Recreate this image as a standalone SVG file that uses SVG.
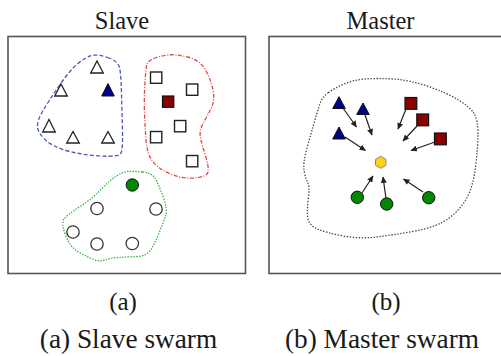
<svg xmlns="http://www.w3.org/2000/svg" width="501" height="356" viewBox="0 0 501 356">
<defs>
<style>
.frame{fill:#fff;stroke:#555;stroke-width:1.6}
.lbl{font-family:"Liberation Serif","Times New Roman",serif;fill:#1a1a1a;text-anchor:middle}
.top{font-size:24.5px}
.sub{font-size:25px}
.cap{font-size:27.3px}
.tri{fill:#fff;stroke:#222;stroke-width:1.3}
.sq{fill:#fff;stroke:#222;stroke-width:1.4}
.cir{fill:#fff;stroke:#333;stroke-width:1.3}
.btri{fill:#00008b;stroke:#111;stroke-width:1}
.rsq{fill:#8b0000;stroke:#111;stroke-width:1.2}
.gcir{fill:#008800;stroke:#111;stroke-width:1}
.blob{fill:none;stroke-width:1.3}
.arrow{stroke:#222;stroke-width:1.2;fill:none;marker-end:url(#ah)}
</style>
<marker id="ah" markerUnits="userSpaceOnUse" markerWidth="7" markerHeight="6" refX="6" refY="3" orient="auto">
<path d="M0,0 L6.5,3 L0,6 Z" fill="#222"/>
</marker>
</defs>
<rect width="501" height="356" fill="#fff"/>

<text class="lbl top" x="122" y="29">Slave</text>
<text class="lbl top" x="380.5" y="29">Master</text>

<g id="panel-slave">
<rect class="frame" x="8" y="36.5" width="237.5" height="237"/>
<path id="blob-blue" class="blob" stroke="#4a58b8" stroke-dasharray="4 2.2" d="M 107.5,57.5 Q 118,61 119.5,67.5 Q 121,74 121.5,93 Q 122,112 122.5,131.5 Q 123,151 120.5,154 Q 118,157 100.5,156 Q 83,155 68,151 Q 53,147 45.5,140 Q 38,133 37.5,127 Q 37,121 42.5,111.5 Q 48,102 59,86 Q 70,70 78,63.5 Q 86,57 91.5,55.5 Q 97,54 107.5,57.5 Z"/>
<path id="blob-red" class="blob" stroke="#e04646" stroke-dasharray="4 1.6 1 1.6" d="M 154,58.5 Q 160,56 167.5,55 Q 175,54 187.5,57 Q 200,60 205.5,70 Q 211,80 213,90 Q 215,100 211.5,107.5 Q 208,115 203.5,122.5 Q 199,130 200.5,137.5 Q 202,145 205.5,156 Q 209,167 208,172 Q 207,177 194.5,178 Q 182,179 169.5,173.5 Q 157,168 152,160.5 Q 147,153 146,140 Q 145,127 144.5,112 Q 144,97 145,82 Q 146,67 147,64 Q 148,61 154,58.5 Z"/>
<path id="blob-green" class="blob" stroke="#3aaa3a" stroke-dasharray="1.4 1.4" d="M 142.5,172 Q 152,173 155,178 Q 158,183 163,196.5 Q 168,210 165.5,216.5 Q 163,223 159,233 Q 155,243 151,249.5 Q 147,256 137,256.5 Q 127,257 118.5,257.5 Q 110,258 105,260 Q 100,262 93.5,259.5 Q 87,257 78.5,252 Q 70,247 65.5,235 Q 61,223 64,219 Q 67,215 80,206.5 Q 93,198 101.5,189 Q 110,180 116.5,176 Q 123,172 128,171.5 Q 133,171 142.5,172 Z"/>

<g id="slave-triangles">
<polygon class="tri" points="97,61 103.3,73 90.7,73"/>
<polygon class="tri" points="61,84 67.3,96 54.7,96"/>
<polygon class="btri" points="108,83.5 114.3,96 101.7,96"/>
<polygon class="tri" points="49,119.5 55.3,132 42.7,132"/>
<polygon class="tri" points="73,131.5 79.3,143 66.7,143"/>
<polygon class="tri" points="108,131.5 114.3,143 101.7,143"/>
</g>
<g id="slave-squares">
<rect class="sq" x="150.5" y="72" width="11.3" height="11.3"/>
<rect class="sq" x="186.5" y="84" width="11.3" height="11.3"/>
<rect class="rsq" x="162.5" y="96" width="11.3" height="11.3"/>
<rect class="sq" x="174.5" y="120.5" width="11.3" height="11.3"/>
<rect class="sq" x="150.5" y="131.5" width="11.3" height="11.3"/>
<rect class="sq" x="186.5" y="155.5" width="11.3" height="11.3"/>
</g>
<g id="slave-circles">
<circle class="gcir" cx="132.3" cy="185" r="6.2"/>
<circle class="cir" cx="97" cy="208.5" r="6.2"/>
<circle class="cir" cx="156" cy="209" r="6.2"/>
<circle class="cir" cx="73" cy="232" r="6.2"/>
<circle class="cir" cx="97" cy="244" r="6.2"/>
<circle class="cir" cx="132.3" cy="243.5" r="6.2"/>
</g>
</g>

<g id="panel-master">
<rect class="frame" x="269" y="36.5" width="245" height="237"/>
<path id="blob-master" class="blob" stroke="#444" stroke-dasharray="1.4 1.6" d="M 328.5,92.5 Q 335,88 344,84 Q 353,80 365,79 Q 377,78 393.5,79 Q 410,80 428.5,86.5 Q 447,93 458.5,100 Q 470,107 474,113.5 Q 478,120 478,133.5 Q 478,147 475.5,167 Q 473,187 466.5,198.5 Q 460,210 448.5,218.5 Q 437,227 415,231 Q 393,235 376.5,237 Q 360,239 343.5,236 Q 327,233 317.5,229 Q 308,225 307.5,216 Q 307,207 308.5,197 Q 310,187 307.5,182 Q 305,177 304,170 Q 303,163 306.5,150 Q 310,137 313.5,125 Q 317,113 319.5,105 Q 322,97 328.5,92.5 Z"/>

<g id="connectors">
<line class="arrow" x1="343" y1="108" x2="356.5" y2="127"/>
<line class="arrow" x1="365" y1="115" x2="372" y2="135"/>
<line class="arrow" x1="345" y1="137" x2="365.5" y2="150.5"/>
<line class="arrow" x1="406" y1="109" x2="398" y2="129"/>
<line class="arrow" x1="417" y1="126" x2="403" y2="141"/>
<line class="arrow" x1="435" y1="142" x2="411" y2="150.5"/>
<line class="arrow" x1="362" y1="193" x2="373" y2="176"/>
<line class="arrow" x1="386" y1="198.5" x2="383" y2="177"/>
<line class="arrow" x1="423" y1="192" x2="403.5" y2="179"/>
</g>

<g id="master-triangles">
<polygon class="btri" points="339,96.7 345.3,108.5 332.7,108.5"/>
<polygon class="btri" points="363,103 369.3,114.5 356.7,114.5"/>
<polygon class="btri" points="339,127 345.3,139 332.7,139"/>
</g>
<g id="master-squares">
<rect class="rsq" x="405" y="97.5" width="11.8" height="11.8"/>
<rect class="rsq" x="416.8" y="114" width="11.8" height="11.8"/>
<rect class="rsq" x="434.5" y="133" width="11.8" height="11.8"/>
</g>
<g id="master-circles">
<circle class="gcir" cx="357.3" cy="197.3" r="6.2"/>
<circle class="gcir" cx="386.7" cy="204" r="6.2"/>
<circle class="gcir" cx="428.7" cy="197.7" r="6.2"/>
</g>
<g id="master-leader">
<polygon points="380.7,156.3 385.9,159.3 385.9,165.3 380.7,168.3 375.5,165.3 375.5,159.3" fill="#ffd21a" stroke="#888" stroke-width="1"/>
</g>
</g>

<text class="lbl sub" x="123" y="309.5">(a)</text>
<text class="lbl sub" x="386" y="309.5">(b)</text>
<text class="lbl cap" x="128.5" y="348.3">(a) Slave swarm</text>
<text class="lbl cap" x="382" y="348.3">(b) Master swarm</text>
</svg>
